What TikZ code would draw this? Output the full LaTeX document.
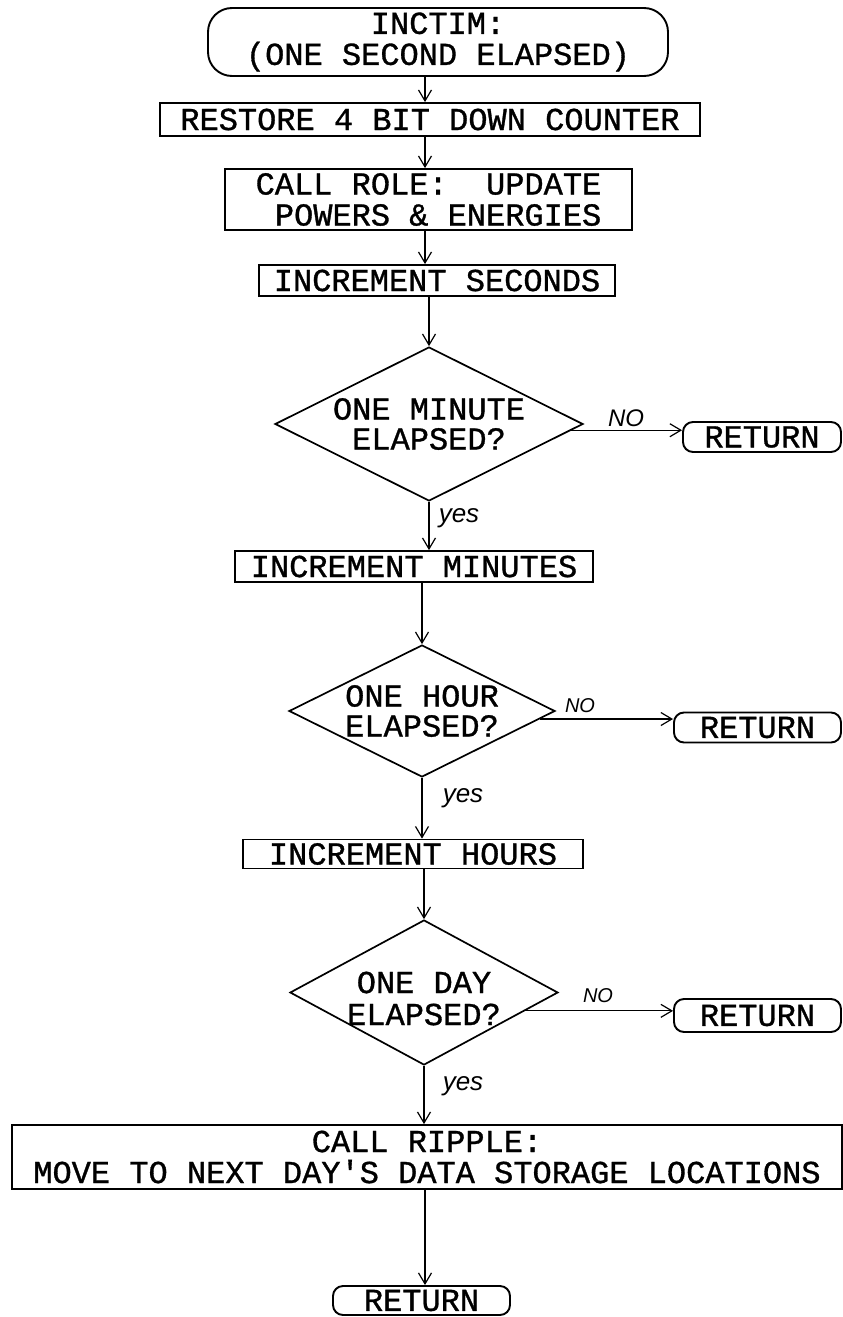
\documentclass[tikz,border=0pt]{standalone}
\usepackage{fontspec}
\setmonofont{Liberation Mono}[FakeBold=1]
\newfontfamily\handfont{Liberation Sans}
\usetikzlibrary{arrows.meta,shapes.geometric,calc}
\begin{document}
\begin{tikzpicture}[x=1pt,y=-1pt,
  txt/.style={font=\ttfamily\fontsize{32}{31}\selectfont, align=center},
  proc/.style={draw, line width=1.8pt, inner sep=0pt, txt},
  term/.style={draw, line width=1.9pt, rounded corners=#1, inner sep=0pt, txt},
  decision/.style={draw, shape=diamond, line width=1.7pt, inner sep=0pt},
  flow/.style={line width=1.2pt, -{Straight Barb[length=11pt,width=13pt]}},
  hand/.style={font=\handfont\itshape\fontsize{#1}{#1}\selectfont}
]
\useasboundingbox (0,0) rectangle (843,1317);
\fill[white] (0,0) rectangle (843,1317);
\coordinate (axis) at (425,0);

\node[term=24pt, minimum width=460pt, minimum height=68pt] (start) at (438,42) {INCTIM:\\(ONE SECOND ELAPSED)};
\node[proc, minimum width=540pt, minimum height=33pt] (b1) at (430,119.5) {RESTORE 4 BIT DOWN COUNTER};
\node[proc, minimum width=407pt, minimum height=61pt] (b2) at (428.5,199.5) {CALL ROLE:~~UPDATE\\~POWERS \& ENERGIES};
\node[proc, minimum width=356pt, minimum height=31pt] (b3) at (437,280.5) {INCREMENT SECONDS};
\node[decision, minimum width=308pt, minimum height=154pt] (d1) at (429,424) {};
\node[txt, font=\ttfamily\fontsize{32}{30}\selectfont] (t1) at (d1.center) {ONE MINUTE\\ELAPSED?};
\node[term=10pt, minimum width=158pt, minimum height=30pt] (r1) at (762,437) {RETURN};
\node[proc, minimum width=358pt, minimum height=31pt] (b4) at (414,566.5) {INCREMENT MINUTES};
\node[decision, minimum width=266pt, minimum height=132pt] (d2) at (422,711) {};
\node[txt, font=\ttfamily\fontsize{32}{30}\selectfont] (t2) at (d2.center) {ONE HOUR\\ELAPSED?};
\node[term=10pt, minimum width=167pt, minimum height=30pt] (r2) at (757.5,727.5) {RETURN};
\node[proc, minimum width=340pt, minimum height=29pt] (b5) at (413,854) {INCREMENT HOURS};
\node[decision, minimum width=268pt, minimum height=145pt] (d3) at (424,992.5) {};
\node[txt, font=\ttfamily\fontsize{32}{32}\selectfont] (t3) at ($(d3.center)+(0,6)$) {ONE DAY\\ELAPSED?};
\node[term=10pt, minimum width=167pt, minimum height=33pt] (r3) at (757.5,1015.5) {RETURN};
\node[proc, minimum width=830pt, minimum height=64pt] (b6) at (427,1157) {CALL RIPPLE:\\MOVE TO NEXT DAY'S DATA STORAGE LOCATIONS};
\node[term=10pt, minimum width=177pt, minimum height=29pt] (r4) at (421.5,1300.5) {RETURN};

\draw[flow] (start.south -| axis) -- (b1.north -| axis);
\draw[flow] (b1.south -| axis) -- (b2.north -| axis);
\draw[flow] (b2.south -| axis) -- (b3.north -| axis);
\draw[flow] (b3.south -| d1.north) -- (d1.north);
\coordinate (e1) at ($(d1.east)!0.08!(d1.south)$);
\draw[flow] (e1) -- (e1 -| r1.west);
\draw[flow] (d1.south) -- (d1.south |- b4.north);
\draw[flow] (b4.south -| d2.north) -- (d2.north);
\coordinate (e2) at ($(d2.east)!0.12!(d2.south)$);
\draw[flow] (e2) -- (e2 -| r2.west);
\draw[flow] (d2.south) -- (d2.south |- b5.north);
\draw[flow] (b5.south -| d3.north) -- (d3.north);
\coordinate (e3) at ($(d3.east)!0.25!(d3.south)$);
\draw[flow] (e3) -- (e3 -| r3.west);
\draw[flow] (d3.south) -- (d3.south |- b6.north);
\draw[flow] (b6.south -| axis) -- (r4.north -| axis);

\node[hand=24] (n1) at (626,418) {NO};
\node[hand=26] (y1) at (459,518) {yes};
\node[hand=20] (n2) at (580,706) {NO};
\node[hand=26] (y2) at (463,798) {yes};
\node[hand=20] (n3) at (598,996) {NO};
\node[hand=26] (y3) at (463,1086) {yes};
\end{tikzpicture}
\end{document}
